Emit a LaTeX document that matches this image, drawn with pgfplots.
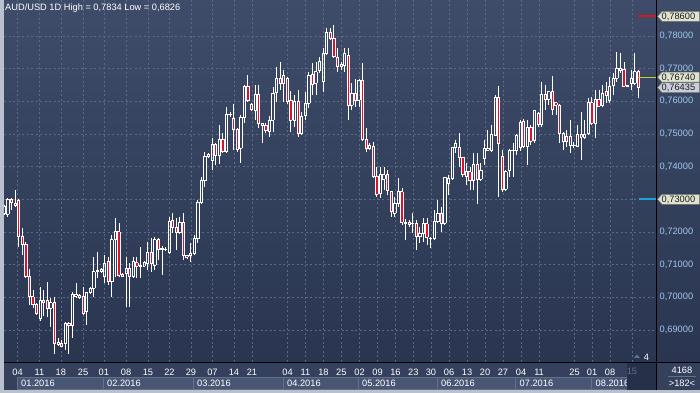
\documentclass[border=0pt]{standalone}
\usepackage{pgfplots}
\pgfplotsset{compat=1.18}
\usepackage{pgfplotstable}
\usepackage{fontspec}
\setmainfont{Liberation Sans}
\definecolor{bgtop}{RGB}{62,76,106}
\definecolor{bgbot}{RGB}{42,54,80}
\definecolor{framegray}{RGB}{185,192,206}
\definecolor{stripbg}{RGB}{52,64,92}
\definecolor{boxfill}{RGB}{72,86,116}
\definecolor{boxline}{RGB}{98,112,140}
\definecolor{darkreg}{RGB}{38,48,72}
\definecolor{gridcol}{RGB}{92,106,136}
\definecolor{labelblue}{RGB}{160,200,240}
\definecolor{candred}{RGB}{225,16,42}
\definecolor{tagfill}{RGB}{222,226,206}
\definecolor{tagfillb}{RGB}{200,206,218}
\definecolor{tagborder}{RGB}{110,112,104}
\definecolor{tagtext}{RGB}{30,30,30}
\definecolor{lvlred}{RGB}{220,20,30}
\definecolor{lvlyel}{RGB}{200,200,60}
\definecolor{lvlblue}{RGB}{30,160,225}
\newcommand{\f}{\fontsize{9.3}{11}\selectfont}

\pgfplotstableread{
o h l c
0.7257 0.7283 0.7252 0.7277
0.7254 0.7304 0.7246 0.7300
0.7300 0.7303 0.7267 0.7290
0.7289 0.7329 0.7277 0.7283
0.7296 0.7300 0.7155 0.7186
0.7186 0.7211 0.7130 0.7162
0.7162 0.7170 0.7059 0.7063
0.7063 0.7086 0.6977 0.7002
0.7002 0.7022 0.6966 0.6977
0.6977 0.6982 0.6949 0.6951
0.6936 0.7033 0.6926 0.6992
0.6992 0.7022 0.6943 0.6986
0.6990 0.7048 0.6941 0.6966
0.6966 0.6997 0.6910 0.6984
0.6984 0.7000 0.6827 0.6859
0.6857 0.6876 0.6854 0.6863
0.6859 0.6869 0.6849 0.6851
0.6859 0.6925 0.6839 0.6921
0.6921 0.6925 0.6826 0.6913
0.6913 0.7017 0.6875 0.7010
0.7004 0.7043 0.6997 0.7010
0.7007 0.7010 0.6998 0.7001
0.7004 0.7033 0.6949 0.6951
0.6956 0.7017 0.6915 0.7014
0.7014 0.7033 0.7012 0.7028
0.7028 0.7124 0.7002 0.7078
0.7078 0.7140 0.7058 0.7084
0.7078 0.7089 0.7074 0.7086
0.7063 0.7130 0.7043 0.7104
0.7109 0.7124 0.7038 0.7048
0.7048 0.7191 0.7000 0.7176
0.7176 0.7242 0.7063 0.7201
0.7201 0.7227 0.7063 0.7068
0.7071 0.7074 0.7063 0.7065
0.7074 0.7124 0.6971 0.7089
0.7089 0.7105 0.6971 0.7063
0.7063 0.7124 0.7059 0.7109
0.7106 0.7123 0.7058 0.7096
0.7096 0.7155 0.7058 0.7099
0.7096 0.7112 0.7094 0.7108
0.7104 0.7170 0.7084 0.7138
0.7138 0.7181 0.7078 0.7104
0.7099 0.7186 0.7084 0.7176
0.7178 0.7181 0.7114 0.7147
0.7148 0.7158 0.7068 0.7150
0.7147 0.7154 0.7142 0.7148
0.7138 0.7247 0.7135 0.7234
0.7237 0.7259 0.7196 0.7214
0.7214 0.7242 0.7145 0.7198
0.7198 0.7247 0.7196 0.7231
0.7231 0.7257 0.7114 0.7130
0.7130 0.7131 0.7121 0.7123
0.7127 0.7165 0.7109 0.7135
0.7135 0.7191 0.7133 0.7179
0.7179 0.7298 0.7165 0.7291
0.7291 0.7369 0.7288 0.7357
0.7357 0.7446 0.7339 0.7433
0.7432 0.7441 0.7426 0.7438
0.7420 0.7487 0.7390 0.7469
0.7469 0.7473 0.7405 0.7436
0.7436 0.7528 0.7408 0.7484
0.7484 0.7502 0.7442 0.7446
0.7446 0.7582 0.7441 0.7560
0.7560 0.7568 0.7553 0.7561
0.7548 0.7592 0.7451 0.7514
0.7514 0.7518 0.7446 0.7453
0.7456 0.7558 0.7412 0.7551
0.7551 0.7650 0.7533 0.7647
0.7647 0.7681 0.7599 0.7602
0.7592 0.7594 0.7574 0.7576
0.7571 0.7650 0.7543 0.7622
0.7622 0.7650 0.7517 0.7533
0.7533 0.7534 0.7473 0.7527
0.7527 0.7533 0.7502 0.7510
0.7507 0.7555 0.7492 0.7543
0.7543 0.7645 0.7507 0.7625
0.7626 0.7706 0.7599 0.7671
0.7671 0.7721 0.7635 0.7655
0.7655 0.7696 0.7599 0.7681
0.7671 0.7675 0.7594 0.7599
0.7604 0.7633 0.7507 0.7543
0.7543 0.7619 0.7522 0.7599
0.7599 0.7635 0.7492 0.7502
0.7502 0.7568 0.7497 0.7553
0.7558 0.7630 0.7543 0.7594
0.7594 0.7691 0.7579 0.7681
0.7683 0.7716 0.7619 0.7652
0.7655 0.7721 0.7619 0.7691
0.7696 0.7737 0.7686 0.7721
0.7660 0.7762 0.7630 0.7747
0.7747 0.7824 0.7742 0.7810
0.7810 0.7824 0.7788 0.7793
0.7793 0.7834 0.7732 0.7737
0.7735 0.7762 0.7691 0.7708
0.7706 0.7721 0.7696 0.7714
0.7711 0.7762 0.7691 0.7747
0.7742 0.7762 0.7543 0.7589
0.7589 0.7655 0.7574 0.7625
0.7625 0.7667 0.7584 0.7604
0.7604 0.7667 0.7584 0.7665
0.7665 0.7716 0.7482 0.7484
0.7484 0.7517 0.7446 0.7456
0.7456 0.7472 0.7451 0.7466
0.7463 0.7476 0.7365 0.7369
0.7371 0.7400 0.7308 0.7316
0.7318 0.7400 0.7303 0.7375
0.7361 0.7400 0.7329 0.7375
0.7375 0.7390 0.7313 0.7326
0.7323 0.7326 0.7247 0.7264
0.7257 0.7308 0.7247 0.7288
0.7288 0.7364 0.7277 0.7323
0.7323 0.7334 0.7222 0.7230
0.7228 0.7239 0.7176 0.7229
0.7229 0.7237 0.7216 0.7223
0.7226 0.7257 0.7196 0.7227
0.7225 0.7237 0.7145 0.7186
0.7186 0.7216 0.7165 0.7196
0.7196 0.7242 0.7170 0.7225
0.7225 0.7242 0.7160 0.7184
0.7181 0.7186 0.7150 0.7182
0.7181 0.7267 0.7176 0.7232
0.7232 0.7298 0.7227 0.7257
0.7257 0.7277 0.7201 0.7227
0.7227 0.7369 0.7221 0.7368
0.7349 0.7375 0.7313 0.7364
0.7364 0.7461 0.7359 0.7459
0.7459 0.7482 0.7441 0.7472
0.7459 0.7502 0.7400 0.7429
0.7429 0.7431 0.7369 0.7375
0.7371 0.7410 0.7344 0.7385
0.7385 0.7400 0.7329 0.7357
0.7357 0.7443 0.7329 0.7408
0.7408 0.7441 0.7286 0.7362
0.7362 0.7410 0.7359 0.7390
0.7426 0.7482 0.7405 0.7456
0.7451 0.7512 0.7449 0.7456
0.7449 0.7528 0.7446 0.7500
0.7497 0.7619 0.7494 0.7612
0.7612 0.7647 0.7306 0.7472
0.7431 0.7451 0.7323 0.7331
0.7331 0.7390 0.7329 0.7385
0.7388 0.7454 0.7369 0.7451
0.7450 0.7472 0.7369 0.7451
0.7451 0.7500 0.7436 0.7497
0.7459 0.7543 0.7449 0.7535
0.7538 0.7545 0.7459 0.7461
0.7463 0.7543 0.7405 0.7521
0.7521 0.7528 0.7466 0.7479
0.7482 0.7574 0.7472 0.7571
0.7563 0.7568 0.7522 0.7531
0.7531 0.7660 0.7522 0.7622
0.7622 0.7650 0.7574 0.7606
0.7606 0.7633 0.7589 0.7630
0.7630 0.7678 0.7558 0.7576
0.7596 0.7599 0.7558 0.7589
0.7589 0.7592 0.7472 0.7502
0.7476 0.7506 0.7451 0.7502
0.7492 0.7512 0.7461 0.7476
0.7466 0.7543 0.7441 0.7492
0.7465 0.7476 0.7456 0.7466
0.7463 0.7528 0.7461 0.7500
0.7500 0.7568 0.7420 0.7490
0.7489 0.7543 0.7484 0.7500
0.7502 0.7609 0.7500 0.7596
0.7596 0.7612 0.7531 0.7533
0.7533 0.7635 0.7487 0.7606
0.7606 0.7635 0.7584 0.7586
0.7589 0.7650 0.7584 0.7625
0.7630 0.7660 0.7594 0.7619
0.7604 0.7675 0.7594 0.7645
0.7650 0.7686 0.7619 0.7671
0.7671 0.7752 0.7660 0.7701
0.7696 0.7747 0.7686 0.7701
0.7698 0.7721 0.7645 0.7647
0.7647 0.7650 0.7644 0.7648
0.7655 0.7696 0.7635 0.7671
0.7655 0.7747 0.7650 0.7691
0.7693 0.7696 0.7609 0.76435
}\candles

\pgfplotsset{
  cndl/.style={mark=none, draw=none, forget plot,
    error bars/error mark=none},
}

\begin{document}
\begin{tikzpicture}
\path[use as bounding box] (0,0) rectangle (700bp,393bp);
\fill[framegray] (0,0) rectangle (700bp,393bp);
\shade[top color=bgtop, bottom color=bgbot] (4bp,31bp) rectangle (700bp,393bp);
\fill[stripbg] (4bp,3bp) rectangle (700bp,31bp);
\begin{scope}[x=1bp,y=-1bp,yshift=393bp]
  % month boxes
  \foreach \a/\b in {17.3/103.3,103.3/193.3,193.3/283.3,283.3/358.3,358.3/437.3,437.3/515.7,515.7/591.7,591.7/627.3}{
    \filldraw[fill=boxfill, draw=boxline, line width=0.6bp] (\a,377.5) rectangle (\b,389.5);
  }
  \foreach \a/\t in {21/01.2016,107/02.2016,197/03.2016,287/04.2016,362/05.2016,441/06.2016,519.5/07.2016,595.5/08.2016}{
    \node[anchor=base west, inner sep=0, text=white, font=\f] at (\a,386.7) {\t};
  }
  \fill[darkreg] (627.3,363) rectangle (656,390);
  \node[anchor=base, inner sep=0, text={rgb,255:red,100;green,112;blue,138}, font=\f] at (632,375) {15};
\end{scope}

\begin{axis}[
  at={(4bp,31bp)}, anchor=south west,
  width=652bp, height=362bp, scale only axis,
  xmin=-0.084, xmax=181.94, ymin=0.6802, ymax=0.79102,
  axis line style={draw=none},
  major tick length=0pt,
  xtick={3.7,9.8,15.8,22.0,27.8,34.0,40.1,46.1,52.1,58.1,64.1,69.15,79.1,84.1,89.1,94.1,99.2,104.2,109.2,114.2,119.1,124.15,129.2,134.2,139.2,144.25,149.3,159.2,164.1,169.1,175.2},
  xticklabels={04,11,18,25,01,08,15,22,29,07,14,21,04,11,18,25,02,09,16,23,30,06,13,20,27,04,11,25,01,08,{}},
  ytick={0.69,0.70,0.71,0.72,0.73,0.74,0.75,0.76,0.77,0.78},
  yticklabels={{0,69000},{0,70000},{0,71000},{0,72000},{},{0,74000},{0,75000},{0,76000},{0,77000},{0,78000}},
  yticklabel pos=right,
  grid=major,
  major grid style={gridcol, dash pattern=on 2bp off 2.5bp, line width=0.6bp},
  tick label style={font=\f},
  xticklabel style={text=white, anchor=base, inner sep=0pt, yshift=-13bp},
  yticklabel style={text=labelblue, anchor=west, inner sep=0pt, xshift=3.5bp},
]
% wicks (upper and lower parts, outside the body)
\addplot[cndl, error bars/.cd, y dir=both, y explicit,
  error bar style={draw=white, line width=0.8bp}]
  table[x expr=\coordindex,
        y expr={(\thisrow{h}+max(\thisrow{o},\thisrow{c}))/2},
        y error expr={(\thisrow{h}-max(\thisrow{o},\thisrow{c}))/2}] {\candles};
\addplot[cndl, error bars/.cd, y dir=both, y explicit,
  error bar style={draw=white, line width=0.8bp}]
  table[x expr=\coordindex,
        y expr={(\thisrow{l}+min(\thisrow{o},\thisrow{c}))/2},
        y error expr={(min(\thisrow{o},\thisrow{c})-\thisrow{l})/2}] {\candles};
% red fill of falling candles
\addplot[cndl, error bars/.cd, y dir=both, y explicit,
  error bar style={draw=candred, line width=2.4bp}]
  table[x expr=\coordindex,
        y expr={(\thisrow{o}+\thisrow{c})/2},
        y error expr={max((\thisrow{o}-\thisrow{c})/2,0)}] {\candles};
% body outlines: left and right sides
\addplot[cndl, error bars/.cd, y dir=both, y explicit,
  error bar style={draw=white, line width=0.7bp}]
  table[x expr={\coordindex-0.32},
        y expr={(\thisrow{o}+\thisrow{c})/2},
        y error expr={abs(\thisrow{o}-\thisrow{c})/2}] {\candles};
\addplot[cndl, error bars/.cd, y dir=both, y explicit,
  error bar style={draw=white, line width=0.7bp}]
  table[x expr={\coordindex+0.32},
        y expr={(\thisrow{o}+\thisrow{c})/2},
        y error expr={abs(\thisrow{o}-\thisrow{c})/2}] {\candles};
% body outlines: open and close edges
\addplot[cndl, error bars/.cd, x dir=both, x fixed=0.418,
  error bar style={draw=white, line width=0.7bp}]
  table[x expr=\coordindex, y=o] {\candles};
\addplot[cndl, error bars/.cd, x dir=both, x fixed=0.418,
  error bar style={draw=white, line width=0.7bp}]
  table[x expr=\coordindex, y=c] {\candles};
% price levels
\addplot[lvlred, line width=2bp, mark=none] coordinates {(176.9,0.786) (181.94,0.786)};
\addplot[lvlyel, line width=1.3bp, mark=none] coordinates {(176.9,0.7674) (181.94,0.7674)};
\addplot[lvlblue, line width=2bp, mark=none] coordinates {(177.2,0.73) (181.94,0.73)};
\end{axis}

\begin{scope}[x=1bp,y=-1bp,yshift=393bp]
  \draw[black, line width=1bp] (4,362.5) -- (700,362.5);
  \draw[black, line width=1bp] (656.5,0) -- (656.5,390);
  % title
  \node[anchor=base west, inner sep=0, text=white, font=\f] at (5,11) {AUD/USD 1D High = 0,7834 Low = 0,6826};
  % tags
  \foreach \y/\fc/\t in {16.4/tagfill/{0,78600},77.2/tagfill/{0,76740},87.6/tagfillb/{0,76435},199.3/tagfill/{0,73000}}{
    \filldraw[fill=\fc, draw=tagborder, line width=0.5bp]
      (657.5,\y) -- ++(4.5,-5) -- ++(37.5,0) -- ++(0,10) -- ++(-37.5,0) -- cycle;
    \node[anchor=base west, inner sep=0, text=tagtext, font=\f] at (661.5,\y+3.3) {\t};
  }
  % bottom right panel
  \node[anchor=base, inner sep=0, text=white, font=\f] at (682,374) {4168};
  \draw[boxline, line width=0.5bp] (668,376.5) -- (696,376.5);
  \node[anchor=base, inner sep=0, text=white, font=\f] at (682,386.7) {>182<};
  \node[anchor=base, inner sep=0, text=white, font=\f] at (646.5,361) {4};
  \fill[boxline] (634,358) -- (637,354.5) -- (640,358) -- cycle;
\end{scope}
\end{tikzpicture}
\end{document}
